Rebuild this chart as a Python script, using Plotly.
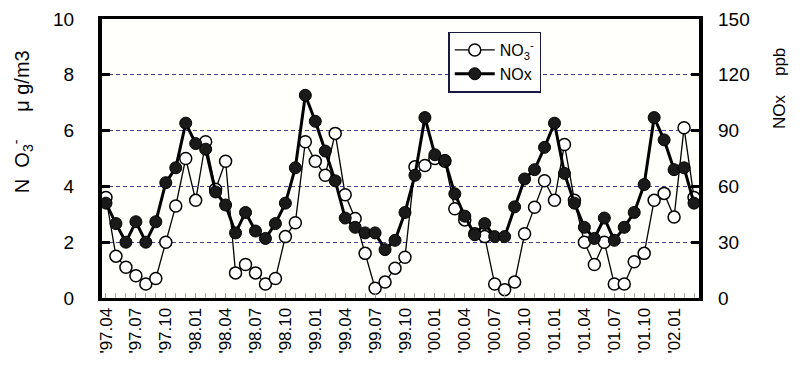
import plotly.graph_objects as go

years = ["97"] * 9 + ["98"] * 12 + ["99"] * 12 + ["00"] * 12 + ["01"] * 12 + ["02"] * 3
mons = ["04", "05", "06", "07", "08", "09", "10", "11", "12"] + \
       ["01", "02", "03", "04", "05", "06", "07", "08", "09", "10", "11", "12"] * 4 + \
       ["01", "02", "03"]
months = ["'" + y + "." + m for y, m in zip(years, mons)]

no3 = [3.6, 1.5, 1.1, 0.8, 0.5, 0.7, 2.0, 3.3, 5.0, 3.5, 5.6, 3.9,
       4.9, 0.9, 1.2, 0.9, 0.5, 0.7, 2.2, 2.7, 5.6, 4.9, 4.4, 5.9,
       3.7, 2.85, 1.6, 0.35, 0.57, 1.07, 1.46, 4.7, 4.75, 5.0, 4.9, 3.2,
       2.8, 2.3, 2.2, 0.5, 0.3, 0.57, 2.3, 3.25, 4.2, 3.5, 5.5, 3.5,
       2.0, 1.2, 2.0, 0.5, 0.5, 1.3, 1.6, 3.5, 3.75, 2.9, 6.1, 3.6]
nox = [51, 40, 30, 41, 30, 41, 62, 70, 94, 83, 80, 57,
       50, 35, 46, 36, 32, 40, 51, 70, 109, 95, 79, 63,
       43, 38, 35, 35, 26, 31, 46, 66, 97, 77, 74, 56,
       44, 34, 40, 33, 33, 49, 64, 69, 81, 94, 67, 51,
       38, 32, 43, 31, 38, 46, 61, 97, 85, 69, 70, 51]

tick_labels = months[::3]
left_ticks = [0, 2, 4, 6, 8, 10]
right_ticks = [0, 30, 60, 90, 120, 150]

FONT = "Liberation Sans, Arial, sans-serif"

fig = go.Figure()
fig.add_trace(go.Scatter(
    x=months, y=no3, name="NO<sub>3</sub><sup>-</sup>", mode="lines+markers",
    line=dict(color="black", width=1.3),
    marker=dict(symbol="circle", size=12, color="white",
                line=dict(color="black", width=1.5)),
    yaxis="y"))
fig.add_trace(go.Scatter(
    x=months, y=nox, name="NOx", mode="lines+markers",
    line=dict(color="black", width=3),
    marker=dict(symbol="circle", size=12, color="#1a1a1a",
                line=dict(color="black", width=1)),
    yaxis="y2"))

fig.update_layout(
    width=800, height=369,
    margin=dict(l=102, r=101, t=19, b=71),
    paper_bgcolor="white", plot_bgcolor="#fffffc",
    font=dict(family=FONT, color="black", size=16),
    showlegend=True,
    legend=dict(x=0.58, y=0.955, xanchor="left", yanchor="top",
                bgcolor="white", bordercolor="#1a1a40", borderwidth=1.5,
                font=dict(size=16, family=FONT), itemwidth=40,
                tracegroupgap=0),
    xaxis=dict(
        type="category", range=[-0.4, 59.5],
        tickmode="array", tickvals=tick_labels, ticktext=tick_labels,
        tickangle=-90, tickfont=dict(size=17, family=FONT),
        ticks="inside", ticklen=5, tickcolor="#999999", tickwidth=1,
        showgrid=False, zeroline=False,
        showline=True, linecolor="black", linewidth=3, mirror=True,
        automargin=False,
        minor=dict(ticks="inside", ticklen=5, tickcolor="#aaaaaa", dtick=1, showgrid=False),
    ),
    yaxis=dict(
        range=[0, 10], tickvals=left_ticks,
        tickfont=dict(size=19, family=FONT),
        ticks="inside", ticklen=8, tickwidth=3, tickcolor="black",
        ticklabelstandoff=20,
        showgrid=True, gridcolor="#4a3f8a", gridwidth=1.2, griddash="4px,3px",
        zeroline=False,
        showline=True, linecolor="black", linewidth=4, mirror=True,
        automargin=False,
    ),
    yaxis2=dict(
        range=[0, 150], tickvals=right_ticks, overlaying="y", side="right",
        tickfont=dict(size=19, family=FONT),
        ticks="inside", ticklen=8, tickwidth=3, tickcolor="black",
        ticklabelstandoff=18,
        showgrid=False, zeroline=False, showline=False,
        automargin=False,
    ),
    annotations=[
        dict(text="N  O<sub>3</sub><sup>-</sup>     μ g/m3", xref="paper", yref="paper",
             x=-0.134, y=0.63, xanchor="center", yanchor="middle",
             textangle=-90, showarrow=False, font=dict(size=20, family=FONT)),
        dict(text="NOx    ppb", xref="paper", yref="paper",
             x=1.136, y=0.75, xanchor="center", yanchor="middle",
             textangle=-90, showarrow=False, font=dict(size=17, family=FONT)),
    ],
)

fig.write_html("out.html", config={"displayModeBar": False},
               post_script="document.body.style.margin='0px';document.body.style.overflow='hidden';")
